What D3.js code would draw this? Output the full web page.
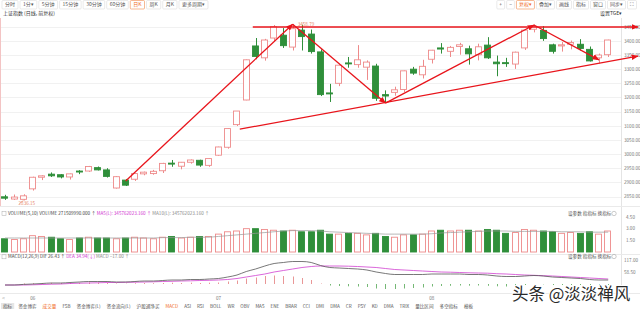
<!DOCTYPE html>
<html>
<head>
<meta charset="utf-8">
<script src="https://cdn.jsdelivr.net/npm/d3@7"></script>
<style>
  html, body { margin: 0; padding: 0; background: #fff; }
  svg { display: block; font-family: "Noto Sans CJK SC", "Noto Sans", sans-serif; }
</style>
</head>
<body>
<div id="chart"></div>
<script>
// ---- data (上证指数 daily, 2020-05-27 .. 2020-08-28) ----
const dates = [
  "05-27","05-28","05-29",
  "06-01","06-02","06-03","06-04","06-05","06-08","06-09","06-10","06-11","06-12",
  "06-15","06-16","06-17","06-18","06-19","06-22","06-23","06-24","06-29","06-30",
  "07-01","07-02","07-03","07-06","07-07","07-08","07-09","07-10","07-13","07-14",
  "07-15","07-16","07-17","07-20","07-21","07-22","07-23","07-24","07-27","07-28",
  "07-29","07-30","07-31",
  "08-03","08-04","08-05","08-06","08-07","08-10","08-11","08-12","08-13","08-14",
  "08-17","08-18","08-19","08-20","08-21","08-24","08-25","08-26","08-27","08-28"
];
const opens = [2849,2841,2840,2877,2918,2929,2927,2919,2940,2940,2952,2944,2880,2908,2911,2930,2931,2941,2968,2957,2971,2978,2960,
  2996,3024,3104,3191,3382,3340,3410,3420,3378,3438,3424,3361,3216,3250,3322,3316,3307,3311,3210,3218,3228,3300,3280,
  3335,3375,3363,3380,3372,3351,3385,3325,3323,3318,3375,3441,3437,3386,3382,3388,3388,3370,3340,3351];
const highs = [2856,2857,2858,2920,2925,2935,2929,2931,2943,2958,2956,2950,2922,2912,2932,2938,2944,2969,2979,2972,2981,2980,2985,
  3026,3091,3152,3334,3410,3407,3456,3445,3458.79,3457,3440,3370,3248,3316,3343,3385,3331,3319,3225,3238,3295,3308,3333,
  3368,3392,3382,3393,3383,3390,3413,3348,3340,3362,3440,3458,3452,3390,3396,3401,3406,3380,3355,3404];
const lows = [2838,2838,2836.15,2871,2908,2919,2914,2910,2929,2937,2942,2917,2878,2887,2905,2925,2927,2933,2955,2946,2966,2955,2955,
  2994,3019,3099,3190,3335,3330,3399,3375,3366,3366,3355,3205,3184,3240,3305,3305,3262,3188,3181,3206,3219,3280,3267,
  3320,3355,3343,3351,3316,3331,3336,3275,3308,3301,3368,3430,3400,3355,3362,3370,3366,3327,3320,3343];
const closes = [2844,2848,2852.35,2918,2923,2923,2919,2930,2937,2956,2944,2921,2920,2890,2931,2936,2939,2967,2965,2971,2979,2961,2984,
  3025,3090,3152,3333,3345,3403,3450,3383,3443,3415,3362,3210,3214,3314,3320,3333,3325,3197,3205,3227,3294,3286,3310,
  3367,3371,3377,3386,3354,3379,3340,3319,3320,3360,3438,3451,3408,3363,3386,3394,3373,3329,3350,3403];

// volume in 亿
const volumes = [1.7,1.6,1.7,2.1,2.0,1.9,1.7,1.6,1.8,1.9,1.8,1.8,1.7,1.8,1.9,1.8,1.7,1.9,2.0,1.8,1.9,2.0,2.0,
  2.3,2.6,2.7,3.0,3.0,2.9,2.8,2.7,2.8,2.6,2.6,2.8,2.3,2.3,2.4,2.4,2.2,2.4,2.0,1.9,2.2,2.2,2.3,
  2.7,2.8,2.7,2.8,2.8,2.7,2.9,2.8,2.4,2.5,2.9,2.8,2.7,2.6,2.4,2.5,2.4,2.6,2.3,2.7];
const volMA = [1.8,1.8,1.8,1.8,1.8,1.8,1.8,1.8,1.8,1.8,1.8,1.8,1.8,1.8,1.8,1.8,1.8,1.85,1.85,1.85,1.9,1.9,1.9,
  2.0,2.1,2.2,2.3,2.4,2.5,2.6,2.7,2.75,2.75,2.75,2.7,2.6,2.55,2.5,2.45,2.4,2.35,2.3,2.3,2.3,2.3,2.3,
  2.35,2.45,2.5,2.55,2.6,2.65,2.7,2.7,2.7,2.65,2.65,2.65,2.65,2.65,2.6,2.6,2.6,2.55,2.55,2.55];

// MACD(12,26,9)
const dif = [-5,-5,-2,0,2.5,5,5,7.5,10,12.5,12.5,12.5,10,10,12.5,15,15,17.5,20,20,22.5,22.5,25,
  27.5,35,45,62.5,75,90,102.5,107.5,112.5,112.5,107.5,92.5,82.5,80,77.5,75,70,60,52.5,47.5,47.5,47.5,47.5,
  50,50,50,50,47.5,47.5,45,40,37.5,37.5,40,42.5,40,35,32.5,30,27.5,22.5,20,20];
const dea = [-5,-5,-5,-4,-2.5,-1,0,2.5,4,5,6,7.5,7.5,8.5,9,10,11,12.5,13.5,15,16,17.5,18.5,
  20,22.5,27.5,35,42.5,50,60,67.5,75,82.5,87.5,90,90,90,89,87.5,85,82.5,77.5,72.5,70,67.5,65,
  62.5,60,59,57.5,56,55,54,51.5,50,47.5,45,43.5,41.5,40,37.5,35,32.5,30,27.5,25];
const macdHist = [0,0,6,8,10,12,10,10,12,15,13,10,5,3,7,10,8,10,13,10,13,10,13,
  15,25,35,55,65,80,85,80,75,60,40,5,-15,-20,-23,-25,-30,-45,-50,-50,-45,-40,-35,
  -25,-20,-18,-15,-17,-15,-18,-23,-25,-20,-10,-2,-3,-10,-10,-10,-10,-15,-15,-10];

const priceTicks = [3450,3400,3350,3300,3250,3200,3150,3100,3050,3000,2950,2900,2850];
const volTicks = [4.5, 3.0, 1.5];
const macdTicks = [117, 58.5];
const monthTicks = [["06-01","06"],["07-01","07"],["08-03","08"]];

// hand-drawn trend lines: [date index, price]
const trendLines = [
  [[13, 2905], [31, 3459]],
  [[31, 3459], [41, 3180]],
  [[41, 3180], [57, 3456]],
  [[57, 3456], [64, 3333]],
  [[26.7, 3449], [68.2, 3449]],
  [[25.3, 3088], [68.2, 3346]]
];

const leftButtons = ["分时","1分▾","5分钟","15分钟","30分钟","60分钟","日K","周K","月K","更多周期▾"];
const rightButtons = ["+","−","复权▾","叠加▾","画线","指标","窗口","同步▾","⛶"];
const tabs = ["指标","资金博弈","成交量","FSB","资金博弈(L)","资金流向(L)","沪股通净买","MACD","ASI","RSI","BOLL",
  "WR","OBV","MA5","ENE","BRAR","CCI","DMI","DMA","CR","PSY","KD","DMA","TRIX","量比区间","多空指标","模板"];

// ---- drawing ----
const width = 640, height = 309;
const plotRight = 621;
const upColor = "#ee8a8a", downColor = "#2f8f3a", lineRed = "#e8141b";

const svg = d3.select("#chart").append("svg")
  .attr("width", width).attr("height", height);

const defs = svg.append("defs");
defs.append("marker")
  .attr("id", "arrow")
  .attr("viewBox", "0 0 10 8")
  .attr("refX", 9).attr("refY", 4)
  .attr("markerWidth", 7).attr("markerHeight", 5.6)
  .attr("markerUnits", "userSpaceOnUse")
  .attr("orient", "auto")
  .append("path").attr("d", "M0,0 L10,4 L0,8 z").attr("fill", lineRed);

const x = d3.scaleBand()
  .domain(dates)
  .range([0.36, 0.36 + dates.length * 9.28])
  .paddingInner(0.2)
  .paddingOuter(0.1);
const bw = x.bandwidth();
const cx = (d) => x(d) + bw / 2;
const xIdx = d3.scaleLinear().domain([0, dates.length - 1]).range([cx(dates[0]), cx(dates[dates.length - 1])]);

const y = d3.scaleLinear().domain([2850, 3450]).range([196.5, 26.7]);
const yVol = d3.scaleLinear().domain([0, 4.5]).range([252, 217]);
const yMacd = d3.scaleLinear().domain([0, 117]).range([284, 260.6]);

// toolbar
function drawButtons(labels, startX, alignRight, activeLabel, pad) {
  const g = svg.append("g");
  let cur = startX;
  const items = labels.map((t) => {
    const txt = g.append("text").attr("font-size", 5).attr("y", 6.3).text(t);
    const w = txt.node().getComputedTextLength() + pad * 2;
    return { t, txt, w };
  });
  if (alignRight) cur = startX - d3.sum(items, (d) => d.w + 2);
  items.forEach((d) => {
    const active = d.t === activeLabel;
    g.insert("rect", "text")
      .attr("x", cur + 0.5).attr("y", 0.5).attr("width", d.w).attr("height", 8.5)
      .attr("rx", 1)
      .attr("fill", "#fff")
      .attr("stroke", active ? "#f08a4b" : "#dcdcdc").attr("stroke-width", 0.6);
    d.txt.attr("x", cur + 0.5 + pad).attr("fill", active ? "#f06a1b" : "#555");
    cur += d.w + 2;
  });
}
drawButtons(leftButtons, 1.5, false, "日K", 3);
drawButtons(rightButtons, 638, true, "复权▾", 2.5);

svg.append("text").attr("x", 3).attr("y", 15).attr("font-size", 5).attr("fill", "#333")
  .text("上证指数  (日线, 前复权)");
svg.append("text").attr("x", 600).attr("y", 15).attr("font-size", 5).attr("fill", "#333")
  .text("设置TGE▾");

// price grid and right axis
svg.append("g").selectAll("line").data(priceTicks).join("line")
  .attr("x1", 0).attr("x2", plotRight)
  .attr("y1", (d) => Math.round(y(d)) + 0.5).attr("y2", (d) => Math.round(y(d)) + 0.5)
  .attr("stroke", "#f1f1f1");
svg.append("g").selectAll("text").data(priceTicks).join("text")
  .attr("x", 624).attr("y", (d) => y(d) + 1.8)
  .attr("font-size", 4.6).attr("fill", "#777")
  .text((d) => d3.format(".2f")(d));
svg.append("line").attr("x1", plotRight + 0.5).attr("x2", plotRight + 0.5)
  .attr("y1", 18).attr("y2", 294).attr("stroke", "#e4e4e4");
svg.append("line").attr("x1", 0.5).attr("x2", 0.5)
  .attr("y1", 18).attr("y2", 206).attr("stroke", "#f3c4c4");

// panel separators
[206.5, 254.5, 293.5].forEach((yy) => {
  svg.append("line").attr("x1", 0).attr("x2", width).attr("y1", yy).attr("y2", yy).attr("stroke", "#eaeaea");
});

// candles
const idx = d3.range(dates.length);
const candles = svg.append("g");
candles.selectAll("line").data(idx).join("line")
  .attr("x1", (i) => Math.round(cx(dates[i])) + 0.5)
  .attr("x2", (i) => Math.round(cx(dates[i])) + 0.5)
  .attr("y1", (i) => y(highs[i])).attr("y2", (i) => y(lows[i]))
  .attr("stroke", (i) => closes[i] >= opens[i] ? upColor : downColor);
candles.selectAll("rect").data(idx).join("rect")
  .attr("x", (i) => Math.round(x(dates[i])) + 0.5)
  .attr("width", Math.round(bw) - 1)
  .attr("y", (i) => y(Math.max(opens[i], closes[i])))
  .attr("height", (i) => Math.max(1, Math.abs(y(opens[i]) - y(closes[i]))))
  .attr("fill", (i) => closes[i] >= opens[i] ? "#fff" : downColor)
  .attr("stroke", (i) => closes[i] >= opens[i] ? upColor : downColor)
  .attr("stroke-width", 0.9);

// max/min markers
const iMax = d3.maxIndex(highs), iMin = d3.minIndex(lows);
svg.append("text").attr("x", cx(dates[iMax]) + 5).attr("y", y(highs[iMax]) + 1.5)
  .attr("font-size", 4.6).attr("fill", "#e8896a").text(d3.format(".2f")(highs[iMax]));
svg.append("line").attr("x1", cx(dates[iMin])).attr("y1", y(lows[iMin]))
  .attr("x2", cx(dates[iMin]) - 4).attr("y2", y(lows[iMin]) + 3).attr("stroke", "#e8896a").attr("stroke-width", 0.6);
svg.append("text").attr("x", cx(dates[iMin]) - 5).attr("y", y(lows[iMin]) + 4.5)
  .attr("font-size", 4.6).attr("fill", "#e8896a").text(d3.format(".2f")(lows[iMin]));

// trend lines
svg.append("g").selectAll("line").data(trendLines).join("line")
  .attr("x1", (d) => xIdx(d[0][0])).attr("y1", (d) => y(d[0][1]))
  .attr("x2", (d) => xIdx(d[1][0])).attr("y2", (d) => y(d[1][1]))
  .attr("stroke", lineRed).attr("stroke-width", 1.3)
  .attr("marker-end", "url(#arrow)");

// volume panel
const volHead = svg.append("text").attr("x", 8).attr("y", 215).attr("font-size", 4.6);
volHead.append("tspan").attr("fill", "#444").text("VOLUME(5,10)  VOLUME 271509990.000 ↑  ");
volHead.append("tspan").attr("fill", "#d030d0").text("MA5(L): 345762023.160 ↑  ");
volHead.append("tspan").attr("fill", "#888").text("MA10(L): 345762023.160 ↑");
svg.append("rect").attr("x", 2).attr("y", 211.5).attr("width", 4).attr("height", 4)
  .attr("fill", "none").attr("stroke", "#aaa").attr("stroke-width", 0.5);

function panelLinks(yy) {
  svg.append("text").attr("x", 568).attr("y", yy).attr("font-size", 4.6).attr("fill", "#555")
    .text("设参数   指指标   换指标");
  svg.append("circle").attr("cx", 614).attr("cy", yy - 1.5).attr("r", 2.2)
    .attr("fill", "none").attr("stroke", "#999").attr("stroke-width", 0.5);
}
panelLinks(215);
panelLinks(258);

svg.append("g").selectAll("rect").data(idx).join("rect")
  .attr("x", (i) => Math.round(x(dates[i])) + 0.5)
  .attr("width", Math.round(bw) - 1)
  .attr("y", (i) => yVol(volumes[i]))
  .attr("height", (i) => yVol(0) - yVol(volumes[i]))
  .attr("fill", (i) => closes[i] >= opens[i] ? "#fff" : downColor)
  .attr("stroke", (i) => closes[i] >= opens[i] ? upColor : downColor)
  .attr("stroke-width", 0.9);
svg.append("path").datum(idx)
  .attr("d", d3.line().x((i) => cx(dates[i])).y((i) => yVol(volMA[i])))
  .attr("fill", "none").attr("stroke", "#999").attr("stroke-width", 0.7);
svg.append("g").selectAll("text").data(volTicks).join("text")
  .attr("x", 626).attr("y", (d) => yVol(d) + 1.8)
  .attr("font-size", 4.6).attr("fill", "#777")
  .text((d) => d3.format(".2f")(d));

// MACD panel
const macdHead = svg.append("text").attr("x", 8).attr("y", 258).attr("font-size", 4.6);
macdHead.append("tspan").attr("fill", "#444").text("MACD(12,26,9)  DIF 26.43 ↑  ");
macdHead.append("tspan").attr("fill", "#d030d0").text("DEA 34.94(↓)  ");
macdHead.append("tspan").attr("fill", "#888").text("MACD −17.00 ↑");
svg.append("rect").attr("x", 2).attr("y", 254.8).attr("width", 4).attr("height", 4)
  .attr("fill", "none").attr("stroke", "#aaa").attr("stroke-width", 0.5);

svg.append("g").selectAll("line").data(idx).join("line")
  .attr("x1", (i) => Math.round(cx(dates[i])) + 0.5)
  .attr("x2", (i) => Math.round(cx(dates[i])) + 0.5)
  .attr("y1", yMacd(0))
  .attr("y2", (i) => yMacd(macdHist[i] / 2))
  .attr("stroke", (i) => macdHist[i] >= 0 ? "#e06a6a" : "#3a9a3a")
  .attr("stroke-width", 0.7);
svg.append("path").datum(idx)
  .attr("d", d3.line().x((i) => cx(dates[i])).y((i) => yMacd(dea[i])).curve(d3.curveMonotoneX))
  .attr("fill", "none").attr("stroke", "#d040d0").attr("stroke-width", 0.8);
svg.append("path").datum(idx)
  .attr("d", d3.line().x((i) => cx(dates[i])).y((i) => yMacd(dif[i])).curve(d3.curveMonotoneX))
  .attr("fill", "none").attr("stroke", "#555").attr("stroke-width", 0.8);
svg.append("g").selectAll("text").data(macdTicks).join("text")
  .attr("x", 624).attr("y", (d) => yMacd(d) + 1.8)
  .attr("font-size", 4.6).attr("fill", "#777")
  .text((d) => d3.format(".2f")(d));

// date axis
svg.append("g").selectAll("text").data(monthTicks).join("text")
  .attr("x", (d) => cx(d[0])).attr("y", 300)
  .attr("font-size", 4.6).attr("fill", "#777").attr("text-anchor", "middle")
  .text((d) => d[1]);
svg.append("text").attr("x", 2).attr("y", 300).attr("font-size", 5).attr("fill", "#999").text("<");

// bottom tabs
const tabG = svg.append("g");
let tx = 3;
tabs.forEach((t, k) => {
  const active = t === "成交量" || t === "MACD";
  const txt = tabG.append("text").attr("x", tx).attr("y", 307.5).attr("font-size", 4.6)
    .attr("fill", active ? "#f06a1b" : "#555").text(t);
  const w = txt.node().getComputedTextLength();
  if (k === 0) {
    tabG.insert("rect", "text").attr("x", tx - 2).attr("y", 303).attr("width", w + 4).attr("height", 6)
      .attr("fill", "#e6e6e6");
  }
  tx += w + 6;
});

// watermark
svg.append("text").attr("x", 512).attr("y", 300)
  .attr("font-size", 16.5).attr("fill", "#2a2a2a")
  .attr("stroke", "#fff").attr("stroke-width", 2.2).attr("paint-order", "stroke")
  .text("头条 @淡淡禅风");
</script>
</body>
</html>
